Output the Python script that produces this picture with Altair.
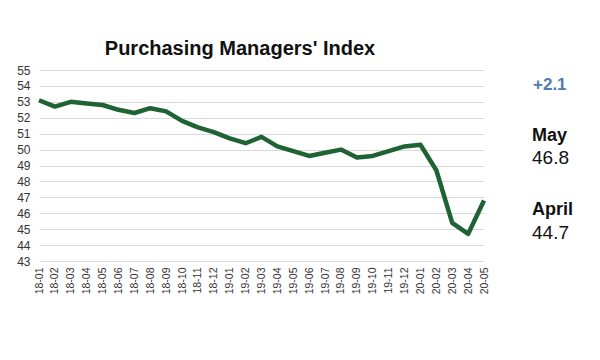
import altair as alt
import pandas as pd

months = ["18-01","18-02","18-03","18-04","18-05","18-06","18-07","18-08","18-09","18-10","18-11","18-12",
          "19-01","19-02","19-03","19-04","19-05","19-06","19-07","19-08","19-09","19-10","19-11","19-12",
          "20-01","20-02","20-03","20-04","20-05"]
pmi = [53.1, 52.7, 53.0, 52.9, 52.8, 52.5, 52.3, 52.6, 52.4, 51.8, 51.4, 51.1,
       50.7, 50.4, 50.8, 50.2, 49.9, 49.6, 49.8, 50.0, 49.5, 49.6, 49.9, 50.2,
       50.3, 48.7, 45.4, 44.7, 46.8]
y_ticks = list(range(43, 56))

title_text = "Purchasing Managers' Index"
change_text = "+2.1"
latest_label, latest_value = "May", "46.8"
prev_label, prev_value = "April", "44.7"

df = pd.DataFrame({"month": months, "pmi": pmi})
FONT = "Liberation Sans"

line = alt.Chart(df).mark_line(color="#1f6335", strokeWidth=4.5, strokeJoin="round").encode(
    x=alt.X("month:O", sort=months, scale=alt.Scale(type="point", padding=0),
            axis=alt.Axis(title=None, labelAngle=270, labelFontSize=10.5, labelColor="#333333",
                          labelFont=FONT, ticks=False, domain=False, grid=False, labelPadding=6)),
    y=alt.Y("pmi:Q", scale=alt.Scale(domain=[43, 55], nice=False, zero=False),
            axis=alt.Axis(title=None, values=y_ticks, labelFontSize=12, labelColor="#333333",
                          labelFont=FONT, ticks=False, domain=False, gridColor="#d9d9d9",
                          gridWidth=1.2, labelPadding=9)),
)

def txt(s, x, y, size, bold=False, color="#111111", align="left"):
    one = alt.Chart(pd.DataFrame({"t": [s]}))
    return one.mark_text(align=align, baseline="alphabetic", fontSize=size, font=FONT,
                         fontWeight=700 if bold else 400, color=color).encode(
        x=alt.value(x), y=alt.value(y), text="t:N")

chart = alt.layer(
    line,
    txt(title_text, 201, -15, 20, bold=True, align="center"),
    txt(change_text, 494, 20, 17, bold=True, color="#4f7bb0"),
    txt(latest_label, 493, 71, 18, bold=True),
    txt(latest_value, 493, 94, 19),
    txt(prev_label, 493, 145, 18, bold=True),
    txt(prev_value, 493, 169, 19),
).properties(
    width=445, height=191,
    autosize=alt.AutoSizeParams(type="none"),
    padding={"left": 31, "top": 62, "right": 100, "bottom": 90},
).configure_view(stroke=None)

chart.save("out.html", embed_options={"renderer": "svg", "actions": False})
